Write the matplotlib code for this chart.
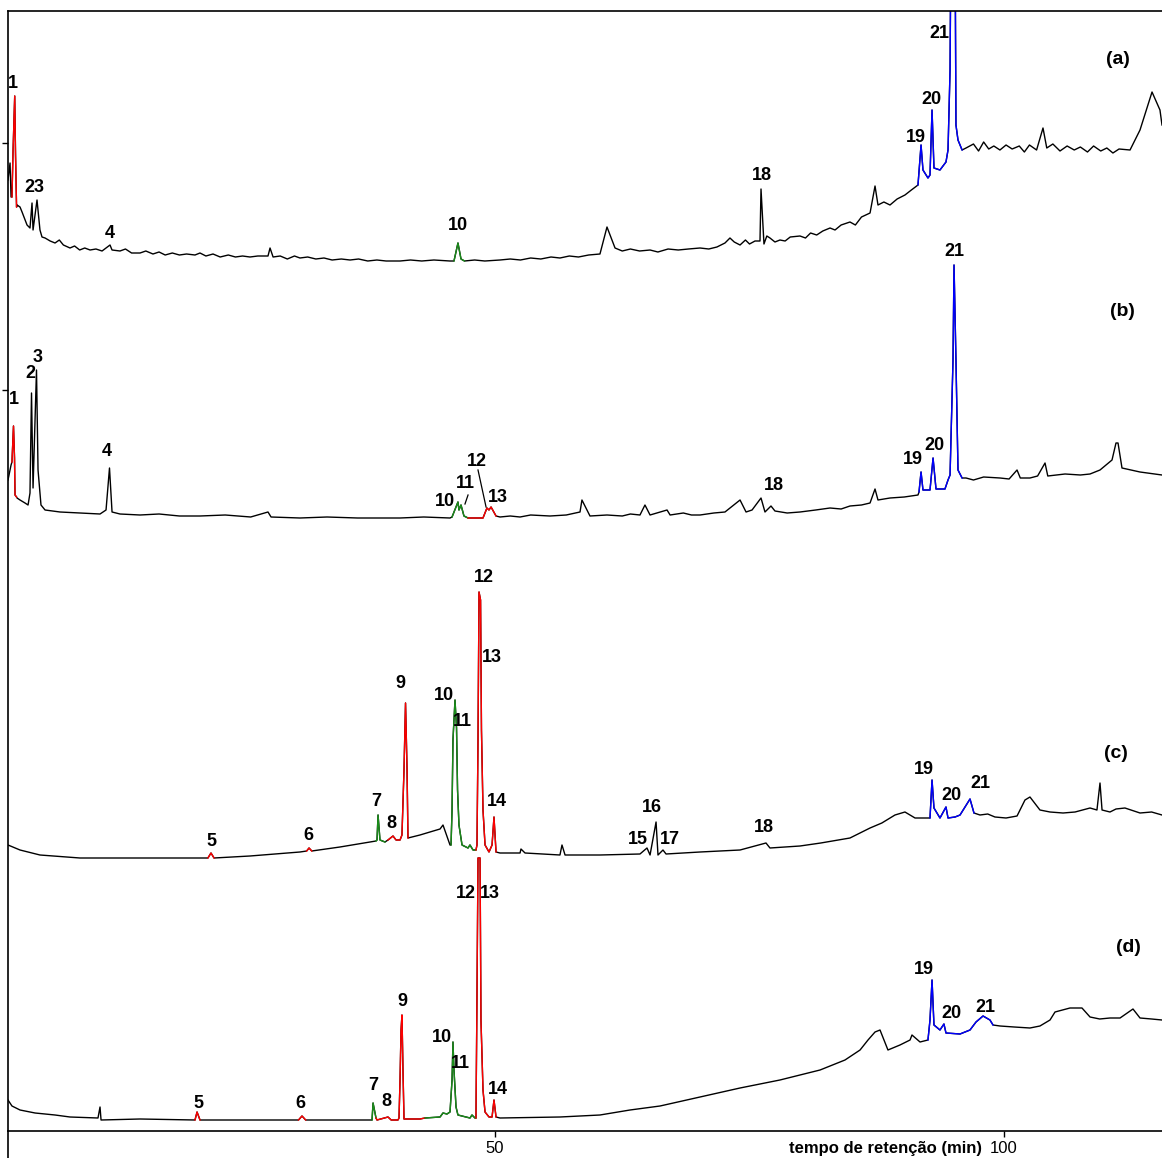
import numpy as np
import matplotlib.pyplot as plt
from matplotlib.lines import Line2D

plt.rcParams['font.family'] = ['Liberation Sans', 'DejaVu Sans']

# retention time (min) and detector response for each chromatogram
time_a = [2.16, 2.36, 2.46, 2.55, 2.65, 2.82, 2.90, 3.00, 3.05, 3.34, 3.54, 4.03, 4.32, 4.52, 4.62, 5.01,
          5.30, 5.50, 5.80, 6.30, 6.78, 7.20, 7.60, 8.25, 8.70, 9.20, 9.70, 10.22, 10.80, 11.40, 12.18,
          12.38, 13.16, 13.70, 14.30, 15.13, 15.70, 16.40, 17.00, 17.60, 18.30, 19.00, 19.70, 20.53,
          21.02, 21.60, 22.30, 23.00, 23.80, 24.50, 25.20, 25.93, 26.70, 27.70, 27.90, 28.20, 28.90,
          29.60, 30.30, 30.84, 31.60, 32.40, 33.20, 34.00, 34.90, 35.76, 36.60, 37.50, 38.40, 39.30,
          40.67, 41.70, 42.80, 44.00, 45.58, 45.97, 46.36, 46.66, 47.00, 48.00, 49.00, 50.49, 51.50,
          52.50, 53.50, 54.50, 55.50, 56.38, 57.30, 58.20, 59.20, 60.31, 61.00, 61.79, 62.50, 63.30,
          64.20, 65.23, 66.00, 67.00, 68.00, 69.00, 70.14, 71.00, 71.80, 72.59, 73.08, 73.50, 74.07,
          74.60, 75.00, 75.54, 76.03, 76.13, 76.42, 76.70, 77.01, 77.50, 77.99, 78.50, 79.00, 79.96,
          80.50, 81.00, 81.60, 82.20, 82.91, 83.40, 84.00, 84.87, 85.40, 86.00, 86.84, 87.33, 87.62,
          88.20, 88.80, 89.50, 90.27, 90.90, 91.55, 91.85, 92.04, 92.53, 92.73, 92.93, 93.12, 93.71,
          94.30, 94.50, 94.70, 94.79, 95.19, 95.28, 95.48, 95.88, 96.27, 97.0, 97.5, 98.0, 98.5, 99.0,
          99.6, 100.2, 100.8, 101.5, 102.0, 102.5, 103.2, 103.83, 104.2, 104.8, 105.5, 106.2, 106.9,
          107.5, 108.2, 108.8, 109.5, 110.1, 110.7, 111.3, 112.38, 113.36, 114.54, 115.32, 115.52]
sig_a = [82, 99, 65, 65, 109, 166, 107, 55, 57, 55, 50, 37, 34, 59, 32, 62,
         32, 25, 24, 21, 19, 22, 17, 14, 16, 12, 14, 12, 13, 11, 17,
         12, 11, 13, 9, 9, 11, 8, 10, 7, 9, 7, 8, 7,
         9, 6, 8, 5, 7, 5, 6, 5, 6, 6, 14, 5, 6,
         3, 6, 4, 5, 3, 4, 2, 3, 2, 3, 1, 2, 1,
         1, 2, 1, 2, 1, 1, 19, 3, 1, 2, 1, 2, 3,
         2, 4, 3, 5, 4, 6, 5, 7, 8, 35, 14, 11, 13,
         11, 12, 10, 13, 12, 13, 14, 13, 15, 19, 24, 20, 17,
         22, 18, 21, 21, 73, 18, 26, 24, 20, 22, 21, 25, 26,
         24, 29, 27, 31, 34, 32, 37, 40, 37, 45, 49, 76, 57,
         60, 57, 63, 67, 72, 77, 117, 92, 84, 87, 152, 94, 92,
         100, 112, 192, 330, 330, 137, 122, 112, 114, 118, 111, 120, 113, 116,
         112, 117, 113, 116, 110, 117, 112, 134, 114, 118, 111, 116, 112,
         115, 110, 116, 111, 114, 109, 113, 112, 132, 170, 152, 137]

time_b = [2.16, 2.36, 2.46, 2.55, 2.70, 2.80, 2.85, 3.00, 3.05, 3.34, 3.83, 4.13, 4.32, 4.47, 4.62, 4.96,
          5.11, 5.40, 5.80, 7.27, 9.23, 11.20, 11.79, 12.13, 12.38, 13.16, 15.13, 17.00, 19.00, 21.02,
          23.50, 26.00, 27.70, 28.00, 30.84, 33.50, 36.50, 40.67, 43.00, 45.58, 45.78, 46.36, 46.46,
          46.66, 46.95, 47.35, 48.82, 49.21, 49.41, 49.61, 50.10, 50.49, 51.50, 52.46, 53.50, 55.40,
          57.00, 58.35, 58.54, 59.33, 61.00, 62.50, 63.30, 64.24, 64.73, 65.23, 66.90, 67.20, 68.50,
          69.30, 70.14, 71.50, 72.59, 74.07, 74.66, 75.25, 76.13, 76.52, 77.11, 77.50, 78.70, 79.96,
          81.50, 82.91, 84.00, 84.87, 86.00, 86.84, 87.33, 87.62, 88.80, 90.20, 91.55, 91.65, 91.85,
          92.04, 92.73, 93.03, 93.32, 94.20, 94.50, 94.70, 94.99, 95.09, 95.28, 95.48, 95.88, 96.27,
          97.0, 98.0, 99.61, 100.5, 101.28, 101.6, 102.55, 103.3, 104.03, 104.3, 106.0, 107.5, 108.45,
          109.43, 110.61, 111.00, 111.20, 111.59, 113.36, 115.52]
sig_b = [38, 48, 53, 56, 92, 60, 23, 21, 20, 18, 15, 13, 25, 125, 30, 148,
         48, 13, 8, 6, 5, 4, 8, 50, 6, 4, 3, 4, 2, 2,
         3, 1, 6, 1, 0, 1, 0, 0, 1, 0, 1, 16, 8,
         13, 2, 0, 0, 10, 8, 11, 2, 1, 2, 1, 3, 2,
         3, 6, 18, 2, 3, 2, 4, 3, 13, 3, 8, 3, 5,
         3, 3, 5, 6, 18, 6, 8, 20, 6, 12, 7, 5, 6,
         8, 10, 9, 12, 13, 15, 29, 18, 20, 21, 23, 26, 46,
         28, 28, 60, 29, 29, 38, 43, 158, 253, 158, 48, 40, 40,
         38, 41, 40, 39, 48, 40, 40, 42, 55, 42, 44, 43, 44,
         48, 58, 75, 75, 50, 46, 43]

time_c = [2.16, 3.34, 5.30, 9.23, 16.11, 21.80, 22.10, 22.40, 25.93, 30.84, 31.50, 31.73, 32.00, 34.77,
          37.72, 38.31, 38.41, 38.51, 38.70, 39.19, 39.49, 39.98, 40.28, 40.67, 40.86, 41.06, 41.21,
          41.36, 41.45, 42.63, 43.61, 44.60, 44.89, 45.58, 45.68, 45.78, 45.87, 46.07, 46.22, 46.32,
          46.46, 46.76, 47.35, 47.54, 47.84, 48.13, 48.23, 48.33, 48.43, 48.58, 48.67, 48.82, 49.02,
          49.41, 49.71, 49.90, 50.10, 50.49, 52.46, 52.55, 52.95, 56.38, 56.58, 56.88, 60.31, 64.24,
          64.93, 65.23, 65.82, 66.01, 66.50, 66.80, 70.14, 74.07, 76.62, 77.01, 79.96, 82.00, 84.87,
          86.84, 88.00, 89.29, 90.27, 91.26, 92.53, 92.73, 92.93, 93.12, 93.71, 94.30, 94.50, 95.19,
          95.68, 96.66, 97.05, 97.64, 98.40, 99.11, 100.20, 101.28, 102.06, 102.55, 103.53, 104.52,
          105.80, 106.98, 108.45, 109.13, 109.43, 109.63, 110.41, 111.00, 111.88, 113.36, 114.50, 115.52]
sig_c = [13, 8, 3, 0, 0, 0, 5, 0, 2, 6, 7, 10, 7, 11,
         16, 17, 18, 43, 18, 16, 18, 22, 18, 18, 23, 88, 155,
         88, 20, 23, 26, 29, 33, 13, 13, 48, 118, 158, 130, 68,
         33, 13, 10, 13, 8, 8, 13, 118, 266, 258, 128, 48, 13,
         6, 13, 41, 6, 5, 5, 9, 5, 3, 13, 3, 3, 4,
         10, 3, 36, 3, 8, 4, 6, 8, 15, 10, 12, 15, 20,
         30, 35, 43, 46, 40, 40, 40, 78, 50, 40, 51, 40, 41,
         43, 59, 45, 43, 44, 41, 40, 42, 58, 61, 48, 46,
         45, 46, 50, 48, 75, 48, 46, 49, 50, 45, 46, 43]

time_d = [2.16, 2.55, 3.34, 4.82, 6.78, 8.25, 11.00, 11.20, 11.30, 15.13, 20.53, 20.73, 21.02, 29.86,
          30.70, 31.04, 31.40, 37.72, 37.92, 38.02, 38.31, 38.41, 39.49, 39.80, 40.47, 40.57, 40.67,
          40.77, 40.86, 40.96, 41.06, 42.63, 43.12, 44.60, 44.89, 45.28, 45.58, 45.78, 45.87, 45.97,
          46.17, 46.36, 47.54, 47.74, 48.03, 48.13, 48.23, 48.33, 48.53, 48.62, 48.82, 49.02, 49.41,
          49.71, 49.90, 50.10, 50.49, 56.38, 60.31, 63.26, 66.21, 70.14, 74.07, 77.99, 81.93, 84.38,
          85.86, 86.64, 87.33, 87.82, 88.60, 89.78, 90.77, 90.96, 91.75, 92.53, 92.73, 92.93, 93.12,
          93.71, 94.10, 94.30, 95.68, 96.66, 97.25, 97.94, 98.62, 98.92, 99.61, 101.00, 102.55, 103.53,
          104.52, 105.01, 106.48, 107.66, 108.45, 109.40, 110.41, 111.40, 112.67, 113.36, 114.50, 115.52]
sig_d = [21, 15, 11, 8, 6, 4, 3, 14, 1, 2, 1, 9, 1, 1,
         1, 5, 1, 1, 1, 18, 3, 1, 4, 1, 1, 3, 41,
         91, 106, 51, 2, 2, 3, 4, 8, 7, 9, 41, 79, 51,
         14, 6, 3, 6, 3, 3, 126, 263, 263, 101, 31, 9, 4,
         4, 21, 4, 3, 4, 6, 11, 15, 24, 33, 41, 51, 61,
         71, 81, 89, 91, 71, 76, 81, 86, 79, 81, 101, 141, 96,
         91, 97, 88, 87, 91, 99, 105, 101, 96, 95, 94, 93, 95,
         101, 109, 113, 113, 104, 102, 103, 103, 112, 103, 102, 101]

offsets = [869, 613, 273, 10]
panel_names = ['(a)', '(b)', '(c)', '(d)']

# retention windows of the identified compounds, drawn in colour
segments_a = [(2.55, 3.00, 'red'), (45.97, 47.00, 'green'), (91.55, 95.88, 'blue')]
segments_b = [(2.55, 3.00, 'red'), (45.78, 47.35, 'green'), (47.35, 50.10, 'red'), (91.65, 95.88, 'blue')]
segments_c = [(21.80, 22.40, 'red'), (31.50, 32.00, 'red'), (38.31, 39.19, 'green'), (39.49, 41.45, 'red'),
              (45.68, 48.13, 'green'), (48.13, 50.10, 'red'), (92.73, 97.05, 'blue')]
segments_d = [(20.53, 21.02, 'red'), (30.70, 31.40, 'red'), (37.92, 38.31, 'green'), (38.31, 43.12, 'red'),
              (43.12, 48.13, 'green'), (48.13, 50.10, 'red'), (92.53, 98.92, 'blue')]

# peak numbers: (label, time, height on the stacked axis)
labels_a = [('1', 2.65, 1047), ('23', 4.72, 944), ('4', 12.18, 898), ('10', 46.36, 906), ('18', 76.23, 956),
            ('19', 91.36, 994), ('20', 92.83, 1032), ('21', 93.62, 1098)]
labels_b = [('1', 2.75, 731), ('2', 4.32, 757), ('3', 5.11, 774), ('4', 11.89, 679), ('10', 45.09, 630),
            ('11', 47.05, 648), ('12', 48.23, 670), ('13', 50.30, 634), ('18', 77.4, 645), ('19', 91.06, 672),
            ('20', 93.12, 686), ('21', 95.09, 880)]
labels_c = [('5', 22.1, 289), ('6', 31.63, 296), ('7', 38.31, 329), ('8', 39.78, 308), ('9', 40.67, 447),
            ('10', 44.99, 436), ('11', 46.76, 410), ('12', 48.92, 553), ('13', 49.71, 474), ('14', 50.2, 329),
            ('15', 64.05, 292), ('16', 65.42, 323), ('17', 67.19, 292), ('18', 76.42, 303), ('19', 92.14, 361),
            ('20', 94.79, 335), ('21', 97.64, 347)]
labels_d = [('5', 20.83, 27), ('6', 30.84, 27), ('7', 38.02, 45), ('8', 39.29, 29), ('9', 40.86, 130),
            ('10', 44.79, 94), ('11', 46.56, 68), ('12', 47.15, 238), ('13', 49.51, 238), ('14', 50.30, 42),
            ('19', 92.14, 161), ('20', 94.79, 118), ('21', 98.13, 124)]
panel_pos = [(111.2, 1071), (111.6, 820), (111.0, 378), (112.2, 183)]

colors = {'red': '#ff0000', 'green': '#1a8c1a', 'blue': '#0000ff'}

fig = plt.figure(figsize=(11.62, 11.58), dpi=100)
ax = fig.add_axes([8 / 1162, 1 - 1131 / 1158, 1 - 8 / 1162, 1120 / 1158])

traces = [(time_a, sig_a, segments_a, labels_a),
          (time_b, sig_b, segments_b, labels_b),
          (time_c, sig_c, segments_c, labels_c),
          (time_d, sig_d, segments_d, labels_d)]

for (t, s, segs, labs), off, name, pos in zip(traces, offsets, panel_names, panel_pos):
    t = np.array(t)
    y = np.array(s) + off
    ax.plot(t, y, color='black', lw=1.0)
    for t0, t1, c in segs:
        m = (t >= t0) & (t <= t1)
        ax.plot(t[m], y[m], color=colors[c], lw=1.0)
    for txt, tx, ty in labs:
        ax.text(tx, ty, txt, ha='center', va='center', fontsize=13, fontweight='bold')
    ax.text(pos[0], pos[1], name, ha='center', va='center', fontsize=14, fontweight='bold')

# leader lines in chromatogram (b)
ax.plot([48.33, 49.12], [661, 624], color='black', lw=0.9)
ax.plot([47.35, 47.05], [636, 627], color='black', lw=0.9)

ax.set_xlim(2.16, 115.52)
ax.set_ylim(0, 1120)
ax.spines['right'].set_visible(False)
for sp in ['left', 'top', 'bottom']:
    ax.spines[sp].set_linewidth(1.2)
ax.set_xticks([50, 100])
ax.set_xticklabels(['50', '100'], fontsize=12)
ax.set_yticks([741, 988])
ax.set_yticklabels([])
ax.tick_params(direction='out', length=4, width=1, pad=3)
ax.text(97.8, -18, 'tempo de retenção (min)', ha='right', va='center', fontsize=12, fontweight='bold')

# left axis line runs down to the bottom edge
fig.add_artist(Line2D([8 / 1162, 8 / 1162], [0, 1 - 1131 / 1158], color='black', lw=1.2))

plt.savefig('out.png', dpi=100)
